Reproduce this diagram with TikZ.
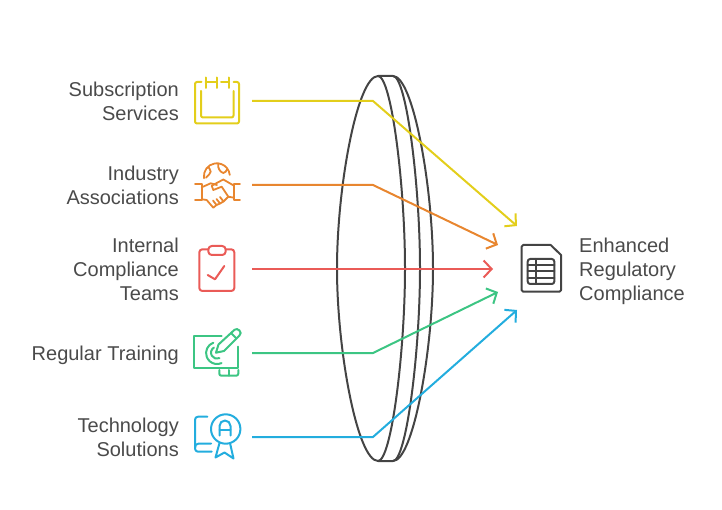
\documentclass[tikz,border=0pt]{standalone}
\usepackage{fontspec}
\setmainfont{Liberation Sans}
\usetikzlibrary{arrows.meta}
\definecolor{subcol}{HTML}{E3CE1B}
\definecolor{indcol}{HTML}{E8862F}
\definecolor{intcol}{HTML}{EA5B57}
\definecolor{regcol}{HTML}{3CC583}
\definecolor{techcol}{HTML}{23ADDE}
\definecolor{darkcol}{HTML}{444444}
\definecolor{textcol}{HTML}{4A4A4A}
\tikzset{
	lefttext/.style={anchor=east,align=right,inner sep=0pt,text=textcol,font=\fontsize{20}{24}\selectfont},
	righttext/.style={anchor=west,align=left,inner sep=0pt,text=textcol,font=\fontsize{20}{24}\selectfont},
	link/.style={line width=2pt,-{Straight Barb[length=8pt,width=17pt]},line join=miter},
	iconline/.style={line width=2pt,line cap=round,line join=round},
	lensline/.style={line width=2pt,draw=darkcol}
}
\begin{document}
\begin{tikzpicture}[x=1pt,y=-1pt]
	\useasboundingbox (0,0) rectangle (722,510);
	% lens
	\draw[lensline] (378,76) .. controls (357.5,76) and (337,186) .. (337,268.5) .. controls (337,351) and (357.5,461) .. (378,461);
	\draw[lensline] (378,76) .. controls (391.5,76) and (405,186) .. (405,268.5) .. controls (405,351) and (391.5,461) .. (378,461);
	\draw[lensline] (378,76) -- (393,76) .. controls (406.5,76) and (420,186) .. (420,268.5) .. controls (420,351) and (406.5,461) .. (393,461) -- (378,461);
	\draw[lensline] (393,76) .. controls (413,76) and (433,186) .. (433,268.5) .. controls (433,351) and (413,461) .. (393,461);
	% labels
	\node[lefttext] (sub) at (179,101.5) {Subscription\\Services};
	\node[lefttext] (ind) at (179,185.5) {Industry\\Associations};
	\node[lefttext] (int) at (179,269.5) {Internal\\Compliance\\Teams};
	\node[lefttext] (reg) at (179,355) {Regular Training};
	\node[lefttext] (tech) at (179,437.5) {Technology\\Solutions};
	\node[righttext] (res) at (579,271) {Enhanced\\Regulatory\\Compliance};
	% ends of the lines
	\coordinate (subs) at (252,101);
	\coordinate (inds) at (252,185);
	\coordinate (ints) at (252,269);
	\coordinate (regs) at (252,353);
	\coordinate (techs) at (252,437);
	\coordinate (subb) at (373,101);
	\coordinate (indb) at (373,185);
	\coordinate (regb) at (373,353);
	\coordinate (techb) at (373,437);
	\coordinate (sube) at (517,226);
	\coordinate (inde) at (498,245);
	\coordinate (inte) at (493,269);
	\coordinate (rege) at (498,292);
	\coordinate (teche) at (517,310);
	\draw[link,subcol] (subs) -- (subb) -- (sube);
	\draw[link,indcol] (inds) -- (indb) -- (inde);
	\draw[link,intcol] (ints) -- (inte);
	\draw[link,regcol] (regs) -- (regb) -- (rege);
	\draw[link,techcol] (techs) -- (techb) -- (teche);
	% calendar
	\begin{scope}[iconline,subcol]
		\draw (201.5,82) -- (197,82) [rounded corners=2pt] -- (195,82) -- (195,123.5) -- (239,123.5) -- (239,82) -- (233.5,82);
		\draw (201,91) [rounded corners=2pt] -- (201,117.5) -- (233.5,117.5) -- (233.5,91);
		\draw (205.7,77.5) -- (205.7,88);
		\draw (216.7,77.5) -- (216.7,88);
		\draw (229,77.5) -- (229,88);
		\draw (205.7,82) -- (216.7,82);
		\draw (221,82) -- (229,82);
	\end{scope}
	% handshake
	\begin{scope}[iconline,indcol,line width=1.8pt]
		\draw (204,178.3) arc (171:354:13);
		\draw (206,177.7) .. controls (208,175) and (211,173.5) .. (210.7,171.7) .. controls (210.5,170) and (209,168) .. (208.3,166.7);
		\draw (218.3,164.3) .. controls (217.5,168) and (220,172) .. (223.3,173) .. controls (225,173) and (226.5,171) .. (227.3,169);
		\draw (195,184.3) -- (201.7,184.3) -- (201.7,200) -- (195,200);
		\draw (240,184.3) -- (234,184.3) -- (234,200) -- (240,200);
		\draw (201.7,187.3) -- (210.7,183.3) -- (217,185);
		\draw (234,185.7) -- (223.3,179.5) -- (211.7,185.7) -- (213.3,190) -- (221.7,186.7) -- (228.3,196.7) -- (234,197.7);
		\draw (201.7,199.3) -- (206.7,200) -- (213.3,207.7) -- (216.5,205) -- (213,200.5);
		\draw (216.5,205) -- (220,203.5) -- (216.5,199);
		\draw (220,203.5) -- (223.5,201.5) -- (220,197);
		\draw (223.5,201.5) -- (228.3,196.7);
	\end{scope}
	% clipboard
	\begin{scope}[iconline,intcol]
		\draw[rounded corners=3pt] (208.3,249.3) -- (199.3,249.3) -- (199.3,291) -- (234.3,291) -- (234.3,249.3) -- (225.7,249.3);
		\draw[rounded corners=3.5pt] (208.3,246) rectangle (225.7,255);
		\draw (207.7,275) -- (215,279.3) -- (224.3,266);
	\end{scope}
	% training board
	\begin{scope}[iconline,regcol]
		\draw (221.7,336) -- (194,336) -- (194,367.7) -- (237.7,367.7) -- (237.7,346.7);
		\draw[rounded corners=2pt] (219.3,370) -- (219.3,375.7) -- (238.3,375.7) -- (238.3,370);
		\draw (229.3,370) -- (229.3,375.7);
		\draw (216,352.7) -- (218.5,344.5) -- (234.5,329.8) .. controls (236,328.5) and (238,329) .. (239.5,330.5) .. controls (241,332) and (241,334) .. (239.5,335.5) -- (224,351) -- cycle;
		\draw (231,333) -- (236.5,338.5);
		\draw (213.3,342.7) arc (250:66:11);
		\draw (214,347.5) arc (240:66:6);
	\end{scope}
	% badge
	\begin{scope}[iconline,techcol]
		\draw (207.3,416.7) -- (198,416.7) [rounded corners=3pt] -- (195,416.7) -- (195,451.7) -- (211.7,451.7);
		\draw (195,448) .. controls (195,445) and (196,443.5) .. (199,443.5) -- (211,443.5);
		\draw (225.7,429) circle (14.7);
		\draw (219.5,435.5) -- (219.5,426) arc (180:360:5.5) -- (230.5,435.5);
		\draw (219.5,430) -- (230.5,430);
		\draw (219.5,443) -- (215.5,457.5) -- (224.5,452.5) -- (233.5,458.5) -- (230,443);
	\end{scope}
	% document
	\begin{scope}[iconline,darkcol]
		\draw[rounded corners=1.5pt] (550.7,245) -- (521.7,245) -- (521.7,291.7) -- (561,291.7) -- (561,255);
		\draw (550.7,245) -- (561,255);
		\draw[rounded corners=2.5pt] (527.7,259) rectangle (554.3,284);
		\draw (536,259) -- (536,284);
		\foreach \rowy in {265.5,271.5,278} {
			\draw (527.7,\rowy) -- (554.3,\rowy);
		}
	\end{scope}
\end{tikzpicture}
\end{document}
